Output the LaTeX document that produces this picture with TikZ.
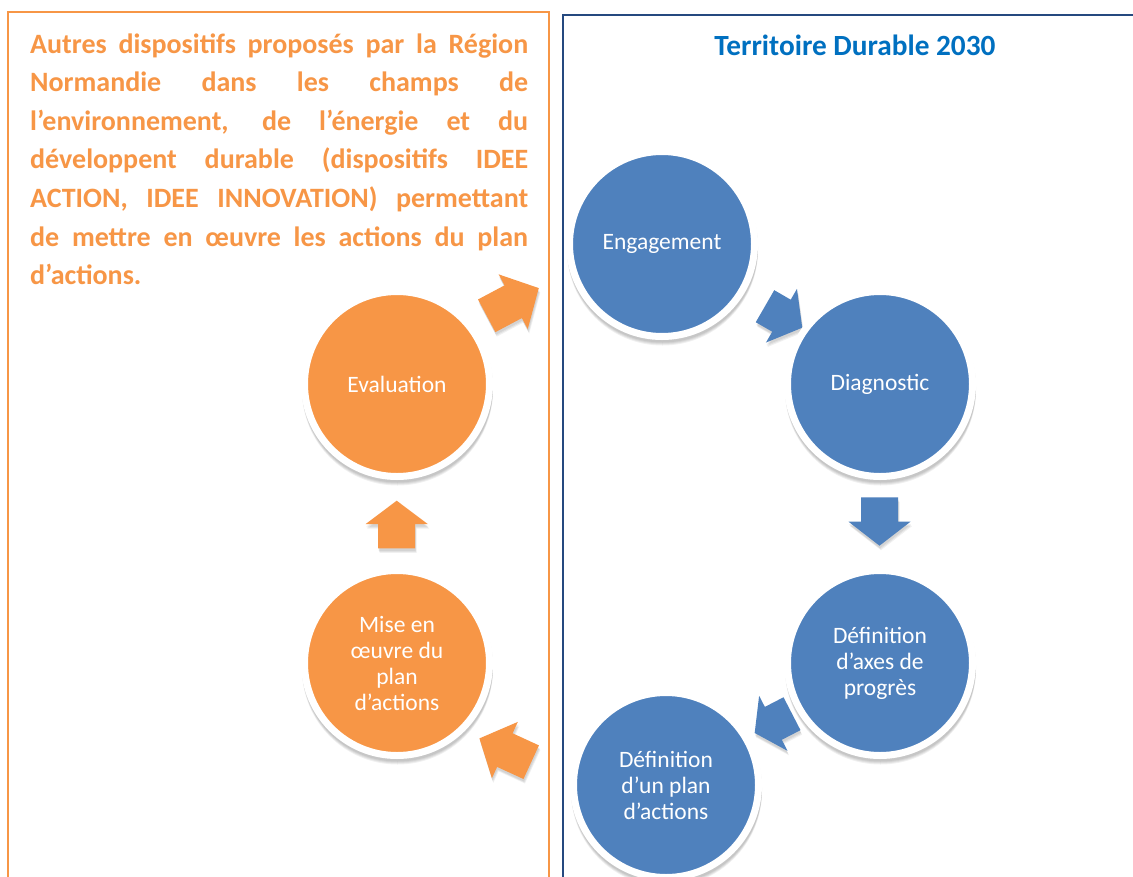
\documentclass[tikz,border=0pt]{standalone}
\usepackage{fontspec}
\setmainfont{Carlito}
\usetikzlibrary{calc}

\definecolor{accblue}{HTML}{4F81BD}
\definecolor{accorange}{HTML}{F79646}
\definecolor{frameblue}{HTML}{25497F}
\definecolor{titleblue}{HTML}{0070C0}

\tikzset{
  stage/.style={circle, draw=white, line width=7pt, minimum size=185pt,
    inner sep=0pt, text=white, align=center,
    font=\fontsize{23.5pt}{26pt}\selectfont},
  bluestage/.style={stage, fill=accblue},
  orangestage/.style={stage, fill=accorange},
  orangeframe/.style={draw=accorange, line width=2pt},
  blueframe/.style={draw=frameblue, line width=2.5pt},
  titletext/.style={inner sep=0pt, anchor=base, text=titleblue,
    font=\fontsize{29.3pt}{34pt}\selectfont\bfseries},
  sidetext/.style={inner sep=0pt, anchor=base west, text=accorange,
    font=\fontsize{28pt}{34pt}\selectfont\bfseries},
  stageshadow/.style={fill=black, opacity=0.06},
  arrowshadow/.style={fill=black, opacity=0.06}
}

% outline of a fat arrow: tail centre at the origin, pointing along +x
% #1 shaft length, #2 head length
\newcommand{\arrowoutline}[2]{(0,-18.5) -- (#1,-18.5) -- (#1,-31) -- ({#1+#2},0)
  -- (#1,31) -- (#1,18.5) -- (0,18.5) -- cycle}

% #1 colour, #2 tail centre, #3 direction, #4 shaft length, #5 head length
\newcommand{\fatarrow}[5]{%
  \foreach \sx/\sy in {0.5/2.5, 1/3.5, 1.5/4.5}{
    \begin{scope}[shift={(\sx,\sy)}]
      \begin{scope}[shift={#2}, rotate=#3]
        \fill[arrowshadow] \arrowoutline{#4}{#5};
      \end{scope}
    \end{scope}
  }
  \begin{scope}[shift={#2}, rotate=#3]
    \fill[#1] \arrowoutline{#4}{#5};
  \end{scope}}

\begin{document}
\begin{tikzpicture}[x=1pt, y=-1pt]
\useasboundingbox (0,0) rectangle (1133,876);
\clip (0,0) rectangle (1133,876);
\fill[white] (0,0) rectangle (1133,876);

% the two frames, running past the lower edge
\draw[orangeframe] (8,12) rectangle (549,900);
\draw[blueframe] (563,15) rectangle (1160,900);

% headings
\node[titletext] (title) at (855,55) {Territoire Durable 2030};

\node[sidetext] (side1) at (30,53)    {\makebox[498pt][s]{Autres dispositifs proposés par la Région}};
\node[sidetext] (side2) at (30,91.6)  {\makebox[498pt][s]{Normandie dans les champs de}};
\node[sidetext] (side3) at (30,130.2) {\makebox[498pt][s]{l’environnement, de l’énergie et du}};
\node[sidetext] (side4) at (30,168.8) {\makebox[498pt][s]{développent durable (dispositifs IDEE}};
\node[sidetext] (side5) at (30,207.4) {\makebox[498pt][s]{ACTION, IDEE INNOVATION) permettant}};
\node[sidetext] (side6) at (30,246)   {\makebox[498pt][s]{de mettre en œuvre les actions du plan}};
\node[sidetext] (side7) at (30,284.6) {d’actions.};

% stage positions
\coordinate (pEng)  at (662,244);
\coordinate (pDiag) at (880,384);
\coordinate (pAxes) at (880,663);
\coordinate (pPlan) at (666,785);
\coordinate (pMise) at (397,663);
\coordinate (pEval) at (397,384);

% soft shadows under the stages, peeking out below the white rings
\foreach \p in {pEng,pDiag,pAxes,pPlan,pMise,pEval}{
  \foreach \r/\dy in {95.5/6, 95.5/5, 95.5/4, 95.5/3}{
    \fill[stageshadow] ([shift={(0.5,\dy)}]\p) circle (\r pt);
  }
}

% cycle arrows
\fatarrow{accorange}{(486.7,315.8)}{28}{30}{29}
\fatarrow{accblue}{(765,306.2)}{-30}{19}{24}
\fatarrow{accblue}{(879.5,497.3)}{-90}{24.4}{24}
\fatarrow{accblue}{(792,713.7)}{207.3}{21}{21}
\fatarrow{accorange}{(531.2,762.2)}{155.3}{29}{28}
\fatarrow{accorange}{(396.7,548.3)}{90}{24.3}{23.3}

% stages
\node[bluestage]   (eng)  at (pEng)  {Engagement};
\node[bluestage]   (diag) at (pDiag) {Diagnostic};
\node[bluestage]   (axes) at (pAxes) {Définition\\d’axes de\\progrès};
\node[bluestage]   (plan) at (pPlan) {Définition\\d’un plan\\d’actions};
\node[orangestage] (mise) at (pMise) {Mise en\\œuvre du\\plan\\d’actions};
\node[orangestage] (eval) at (pEval) {Evaluation};
\end{tikzpicture}
\end{document}
